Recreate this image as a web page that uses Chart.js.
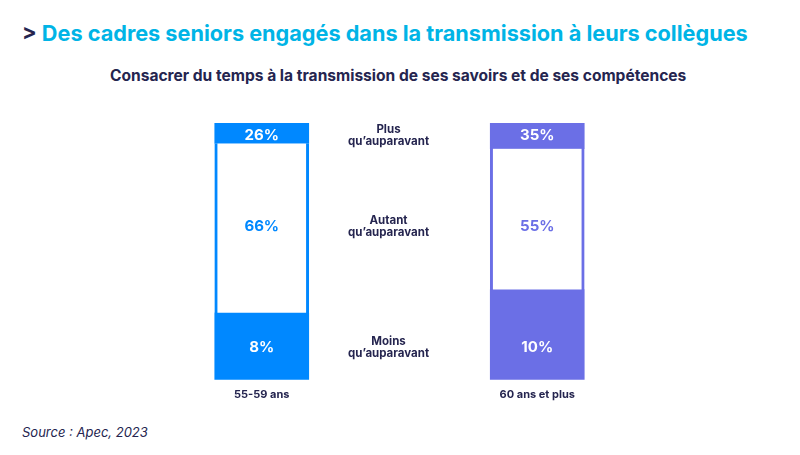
<!DOCTYPE html>
<html lang="fr">
<head>
<meta charset="utf-8">
<script src="https://cdn.jsdelivr.net/npm/chart.js@4"></script>
<style>
    html, body { margin: 0; padding: 0; background: #fff; }
    body { width: 800px; height: 455px; position: relative; overflow: hidden; font-family: Inter, "Noto Sans", sans-serif; color: #25254f; }
    #title { position: absolute; left: 22px; top: 20px; font-size: 20px; font-weight: 700; color: #00b4e6; white-space: nowrap; }
    #title span { color: #25254f; }
    #subtitle { position: absolute; left: 110px; top: 66px; font-size: 13.5px; font-weight: 700; white-space: nowrap; }
    #source { position: absolute; left: 22px; top: 424px; font-size: 13px; font-style: italic; white-space: nowrap; }
    #chart-box { position: absolute; left: 124px; top: 113px; width: 551px; height: 296px; }
</style>
</head>
<body>
<div id="title"><span>&gt;</span> Des cadres seniors engagés dans la transmission à leurs collègues</div>
<div id="subtitle">Consacrer du temps à la transmission de ses savoirs et de ses compétences</div>
<div id="source">Source : Apec, 2023</div>
<div id="chart-box"><canvas id="transmission-chart"></canvas></div>

<script>
    "use strict";

    // Data
    const categories = ['55-59 ans', '60 ans et plus'];
    const plusValues = [26, 35];
    const autantValues = [66, 55];
    const moinsValues = [8, 10];
    const answerLabels = [
        ['Plus', 'qu\u2019auparavant'],
        ['Autant', 'qu\u2019auparavant'],
        ['Moins', 'qu\u2019auparavant']
    ];

    const barColors = ['#0088ff', '#6b6fe6'];
    const navy = '#25254f';

    // Stretch a text block to the width it has in the reference
    function fitWidth(id, target) {
        const el = document.getElementById(id);
        const size = parseFloat(getComputedStyle(el).fontSize);
        el.style.fontSize = (size * target / el.getBoundingClientRect().width) + 'px';
    }
    fitWidth('title', 726);
    fitWidth('subtitle', 577);

    // The source draws the big segment at the bottom and the small one on top,
    // while printing the "Plus" value on top and "Moins" at the bottom. Kept as is.
    const segmentLabels = {
        id: 'segmentLabels',
        afterDatasetsDraw(chart) {
            const ctx = chart.ctx;
            const top = chart.getDatasetMeta(2).data;
            const mid = chart.getDatasetMeta(1).data;
            const bottom = chart.getDatasetMeta(0).data;
            // all texts sit on the rows of the first bar, nudged a little
            const shifts = [2, -2, 1];
            const rows = [top[0], mid[0], bottom[0]].map((el, r) => (el.y + el.base) / 2 + shifts[r]);
            const printed = [plusValues, autantValues, moinsValues];

            ctx.save();
            ctx.textAlign = 'center';
            ctx.textBaseline = 'middle';

            categories.forEach((cat, i) => {
                const x = top[i].x;
                ctx.font = '700 15px Inter, sans-serif';
                printed.forEach((values, r) => {
                    ctx.fillStyle = r === 1 ? barColors[i] : '#ffffff';
                    ctx.fillText(values[i] + '%', x, rows[r]);
                });
            });

            // answer labels in the middle column
            const xMid = (top[0].x + top[1].x) / 2 - 11;
            ctx.font = '700 11.5px Inter, sans-serif';
            ctx.fillStyle = navy;
            answerLabels.forEach((lines, r) => {
                ctx.fillText(lines[0], xMid, rows[r] - 6);
                ctx.fillText(lines[1], xMid, rows[r] + 6);
            });
            ctx.restore();
        }
    };

    new Chart(document.getElementById('transmission-chart'), {
        type: 'bar',
        data: {
            labels: categories,
            datasets: [{
                label: 'Plus',
                data: plusValues,
                backgroundColor: barColors,
                borderWidth: 0
            }, {
                label: 'Autant',
                data: autantValues,
                backgroundColor: '#ffffff',
                borderColor: barColors,
                borderWidth: { left: 3, right: 3, top: 0, bottom: 0 },
                borderSkipped: false
            }, {
                label: 'Moins',
                data: moinsValues,
                backgroundColor: barColors,
                borderWidth: 0
            }]
        },
        options: {
            responsive: true,
            maintainAspectRatio: false,
            animation: false,
            layout: { padding: { top: 10, bottom: 0, left: 0, right: 0 } },
            plugins: {
                legend: { display: false },
                tooltip: { enabled: false }
            },
            datasets: {
                bar: { barThickness: 94 }
            },
            scales: {
                x: {
                    stacked: true,
                    grid: { display: false, drawTicks: false },
                    border: { display: false },
                    ticks: {
                        color: navy,
                        padding: 8,
                        font: { family: 'Inter', size: 11, weight: '700' }
                    }
                },
                y: {
                    stacked: true,
                    display: false,
                    min: 0,
                    max: 100
                }
            }
        },
        plugins: [segmentLabels]
    });
</script>
</body>
</html>
